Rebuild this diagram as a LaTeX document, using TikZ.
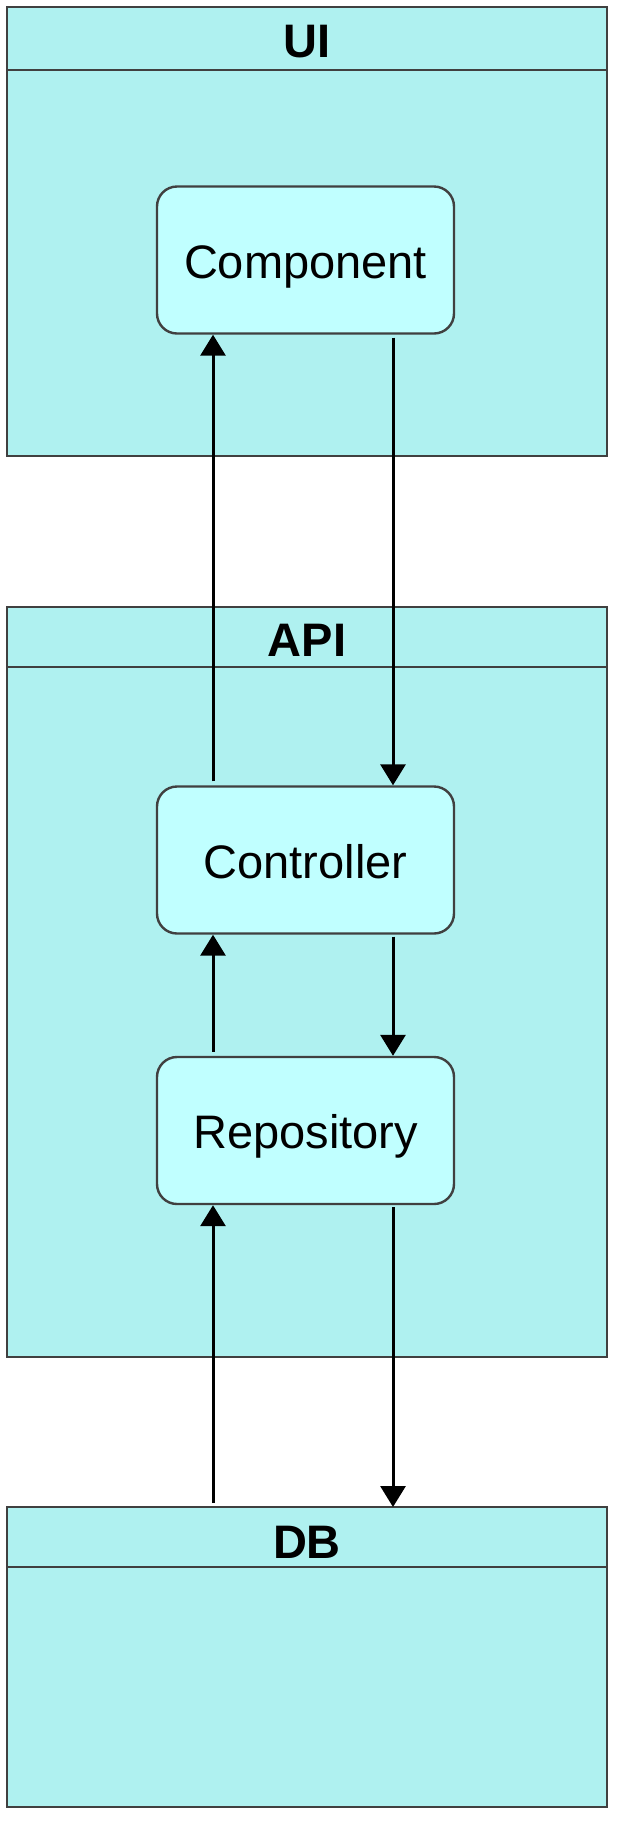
\documentclass[tikz,border=0pt]{standalone}
\usepackage{fontspec}
\setmainfont{Liberation Sans}
\usetikzlibrary{arrows.meta}
\definecolor{outerfill}{HTML}{AFF1F0}
\definecolor{innerfill}{HTML}{C0FFFF}
\definecolor{edge}{HTML}{404040}
\tikzset{
  container/.style={draw=edge, fill=outerfill, line width=2.6pt},
  headline/.style={draw=edge, line width=2.6pt},
  headtext/.style={font=\fontsize{47}{56}\selectfont\bfseries, inner sep=0pt,
    text height=34pt, text depth=0pt},
  comp/.style={draw=edge, fill=innerfill, line width=2.4pt, rounded corners=20pt,
    minimum width=297pt, minimum height=147pt, inner sep=0pt,
    font=\fontsize{47}{56}\selectfont},
  ctext/.style={font=\fontsize{47}{56}\selectfont, inner sep=0pt,
    text height=34pt, text depth=0pt},
  arr/.style={draw=black, line width=3pt, -{Triangle[width=25pt,length=21pt]}}
}
\begin{document}
\begin{tikzpicture}[x=1pt,y=1pt]
\useasboundingbox (0,0) rectangle (624,-1824);
% containers
\draw[container] (7,-7) rectangle (607,-456);
\draw[headline] (7,-70) -- (607,-70);
\node[headtext] (uih) at (307,-40) {UI};
\draw[container] (7,-607) rectangle (607,-1357);
\draw[headline] (7,-667) -- (607,-667);
\node[headtext] (apih) at (307,-639.5) {API};
\draw[container] (7,-1507) rectangle (607,-1807);
\draw[headline] (7,-1567) -- (607,-1567);
\node[headtext] (dbh) at (307,-1541) {DB};
\coordinate (dbtop) at (307,-1507);
% components
\node[comp] (cmp) at (305.5,-260) {};
\node[ctext] (cmpt) at (305.5,-261.5) {Component};
\node[comp] (ctl) at (305.5,-860) {};
\node[ctext] (ctlt) at (305.5,-861.5) {Controller};
\node[comp] (rep) at (305.5,-1130.5) {};
\node[ctext] (rept) at (305.5,-1131) {Repository};
\coordinate (L) at (213,0);
\coordinate (R) at (393,0);
% arrows
\draw[arr, shorten <=3pt] (cmp.south -| R) -- (ctl.north -| R);
\draw[arr, shorten <=4pt] (ctl.north -| L) -- (cmp.south -| L);
\draw[arr, shorten <=2pt] (ctl.south -| R) -- (rep.north -| R);
\draw[arr, shorten <=4pt] (rep.north -| L) -- (ctl.south -| L);
\draw[arr, shorten <=2pt] (rep.south -| R) -- (dbtop -| R);
\draw[arr, shorten <=4pt] (dbtop -| L) -- (rep.south -| L);
\end{tikzpicture}
\end{document}
